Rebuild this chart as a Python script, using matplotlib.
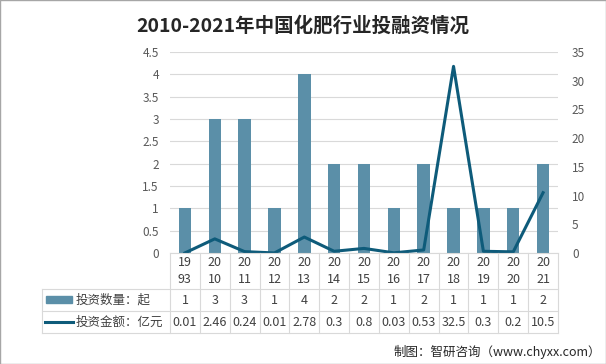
import matplotlib.pyplot as plt
from matplotlib.lines import Line2D
from matplotlib.patches import Rectangle
from matplotlib.transforms import blended_transform_factory

plt.rcParams['font.family'] = ['Noto Sans CJK SC', 'DejaVu Sans']

# data
years = ['1993', '2010', '2011', '2012', '2013', '2014', '2015',
         '2016', '2017', '2018', '2019', '2020', '2021']
deal_count = [1, 3, 3, 1, 4, 2, 2, 1, 2, 1, 1, 1, 2]
deal_amount = [0.01, 2.46, 0.24, 0.01, 2.78, 0.3, 0.8, 0.03, 0.53, 32.5, 0.3, 0.2, 10.5]
amount_labels = ['0.01', '2.46', '0.24', '0.01', '2.78', '0.3', '0.8',
                 '0.03', '0.53', '32.5', '0.3', '0.2', '10.5']
count_name = '投资数量：起'
amount_name = '投资金额：亿元'

bar_color = '#5b8fa8'
line_color = '#0e5b7a'
grid_color = '#d9d9d9'
text_color = '#595959'

W, H = 606, 364
fig = plt.figure(figsize=(W / 100, H / 100), dpi=100)

def fy(py):
    # pixel row (from top) -> figure fraction
    return 1 - py / H

x0, x1, y_top, y_zero = 170, 558, 52, 253
ax = fig.add_axes([x0 / W, fy(y_zero), (x1 - x0) / W, (y_zero - y_top) / H])
pos = list(range(len(years)))
ax.bar(pos, deal_count, 0.42, color=bar_color, zorder=2)
ax.set_xlim(-0.5, len(years) - 0.5)
ax.set_ylim(0, 4.5)
ax.set_yticks([i * 0.5 for i in range(10)])
ax.set_yticklabels(['0', '0.5', '1', '1.5', '2', '2.5', '3', '3.5', '4', '4.5'])
ax.set_xticks([])
ax.grid(axis='y', color=grid_color, linewidth=0.8, zorder=0)
for s in ax.spines.values():
    s.set_visible(False)
ax.tick_params(axis='y', length=0, labelsize=8.5, labelcolor=text_color, pad=8)

ax2 = ax.twinx()
ax2.plot(pos, deal_amount, color=line_color, linewidth=2.2, zorder=3)
ax2.set_ylim(0, 35)
ax2.set_yticks(range(0, 36, 5))
for s in ax2.spines.values():
    s.set_visible(False)
ax2.tick_params(axis='y', length=0, labelsize=8.5, labelcolor=text_color, pad=10)

# data table under the chart
tr = blended_transform_factory(ax.transData, fig.transFigure)
r0, r1, r2, r3 = 253, 289, 311, 333
left_px = 42

def hline(xa, xb, py):
    fig.add_artist(Line2D([xa / W, xb / W], [fy(py), fy(py)],
                          color=grid_color, linewidth=0.8))

def vline(xp, ya, yb):
    fig.add_artist(Line2D([xp / W, xp / W], [fy(ya), fy(yb)],
                          color=grid_color, linewidth=0.8))

hline(x0, x1, r0)
hline(left_px, x1, r1)
hline(left_px, x1, r2)
hline(left_px, x1, r3)
vline(left_px, r1, r3)
col_w = (x1 - x0) / len(years)
for i in range(len(years) + 1):
    vline(x0 + i * col_w, r0, r3)

for i, y in enumerate(years):
    ax.text(i, fy((r0 + r1) / 2), y[:2] + '\n' + y[2:], transform=tr,
            ha='center', va='center', fontsize=9, color='#404040', linespacing=1.35)
    ax.text(i, fy((r1 + r2) / 2), str(deal_count[i]), transform=tr,
            ha='center', va='center', fontsize=9, color='#404040')
    ax.text(i, fy((r2 + r3) / 2), amount_labels[i], transform=tr,
            ha='center', va='center', fontsize=9, color='#404040')

# row legends
fig.add_artist(Rectangle((46 / W, fy(303)), 26 / W, 7 / H, color=bar_color))
fig.text(76 / W, fy((r1 + r2) / 2), count_name, ha='left', va='center',
         fontsize=9, color='#404040')
fig.add_artist(Line2D([45 / W, 73 / W], [fy(322), fy(322)], color=line_color, linewidth=2.2))
fig.text(76 / W, fy((r2 + r3) / 2), amount_name, ha='left', va='center',
         fontsize=9, color='#404040')

fig.text(0.5, fy(26), '2010-2021年中国化肥行业投融资情况', ha='center', va='center',
         fontsize=14, fontweight='bold', color='#262626')
fig.text(601 / W, fy(352), '制图：智研咨询（www.chyxx.com）', ha='right', va='center',
         fontsize=9, color='#262626')

fig.add_artist(Rectangle((0, 0), 1, 1, transform=fig.transFigure, fill=False,
                         edgecolor='#a6a6a6', linewidth=1))

fig.savefig('out.png', dpi=100)
